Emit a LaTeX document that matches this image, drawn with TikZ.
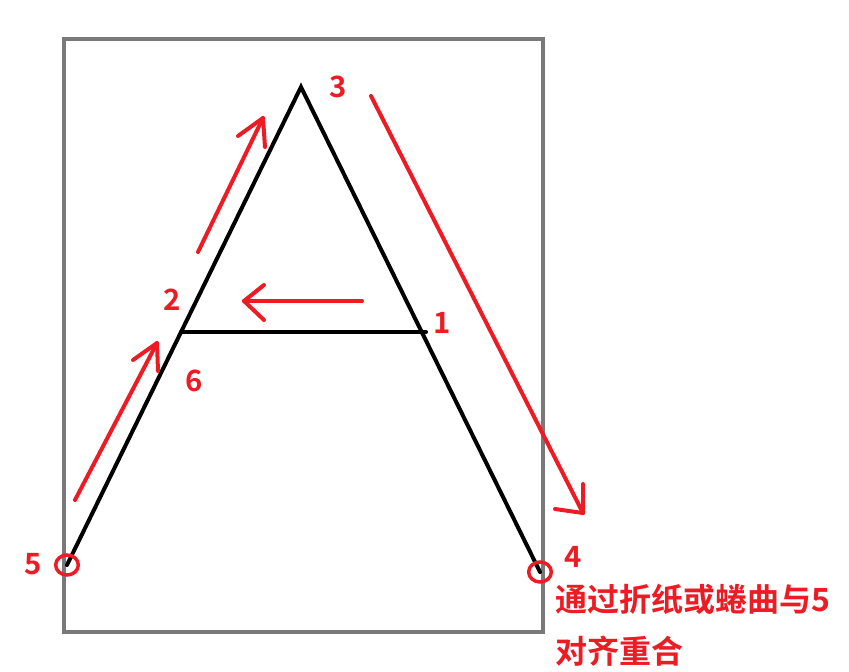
\documentclass[tikz,border=0pt]{standalone}
\usepackage{fontspec}
\usetikzlibrary{shapes.geometric}
\newfontfamily\cjk{Noto Sans CJK SC}[BoldFont={Noto Sans CJK SC Bold}]
\begin{document}
\begin{tikzpicture}[x=0.75pt,y=-0.75pt,
  frame/.style={draw=gray!95!black,line width=3pt},
  leg/.style={draw=black,line width=3pt,line cap=round},
  redline/.style={draw=pred,line width=3pt,line cap=round,line join=round},
  lbl/.style={text=pred,font=\cjk\bfseries\fontsize{22}{26}\selectfont,inner sep=0pt},
  txt/.style={text=pred,font=\cjk\bfseries\fontsize{24}{28}\selectfont,inner sep=0pt},
  ring/.style={draw=pred,line width=2.6pt,ellipse,minimum width=17pt,minimum height=15pt,inner sep=0pt}]
\definecolor{pred}{HTML}{ED1C24}
\useasboundingbox (0,0) rectangle (849,671);
\fill[white] (0,0) rectangle (849,671);
\draw[frame] (64,39) rectangle (543,632);
% A shape
\coordinate (apex) at (301,87);
\coordinate (lf) at (67,565);
\coordinate (rf) at (540,572);
\coordinate (cl) at (181,332);
\coordinate (cr) at (426,332);
\draw[leg] (lf) -- (apex) -- (rf);
\draw[leg] (cl) -- (cr);
% rings
\node[ring] (r5) at (lf) {};
\node[ring] (r4) at (rf) {};
% red arrows
\coordinate (a1s) at (75,500); \coordinate (a1t) at (157,343);
\coordinate (a1h1) at (133,360); \coordinate (a1h2) at (158,371);
\draw[redline] (a1s) -- (a1t);
\draw[redline] (a1h1) -- (a1t) -- (a1h2);
\coordinate (a2s) at (198,252); \coordinate (a2t) at (263,118);
\coordinate (a2h1) at (238,136); \coordinate (a2h2) at (265,147);
\draw[redline] (a2s) -- (a2t);
\draw[redline] (a2h1) -- (a2t) -- (a2h2);
\coordinate (a3s) at (362,301); \coordinate (a3t) at (244,301);
\coordinate (a3h1) at (264,285); \coordinate (a3h2) at (264,320);
\draw[redline] (a3s) -- (a3t);
\draw[redline] (a3h1) -- (a3t) -- (a3h2);
\coordinate (a4s) at (371,96); \coordinate (a4t) at (583,513);
\coordinate (a4h1) at (555,509); \coordinate (a4h2) at (583,484);
\draw[redline] (a4s) -- (a4t);
\draw[redline] (a4h1) -- (a4t) -- (a4h2);
% labels
\node[lbl] (l3) at (338,87) {3};
\node[lbl] (l2) at (172,300) {2};
\node[lbl] (l1) at (442,323) {1};
\node[lbl] (l6) at (194,381) {6};
\node[lbl] (l5) at (33,564) {5};
\node[lbl] (l4) at (573,557) {4};
\node[txt,anchor=west] (t1) at (555,599) {通过折纸或蜷曲与5};
\node[txt,anchor=west] (t2) at (555,651) {对齐重合};
\end{tikzpicture}
\end{document}
